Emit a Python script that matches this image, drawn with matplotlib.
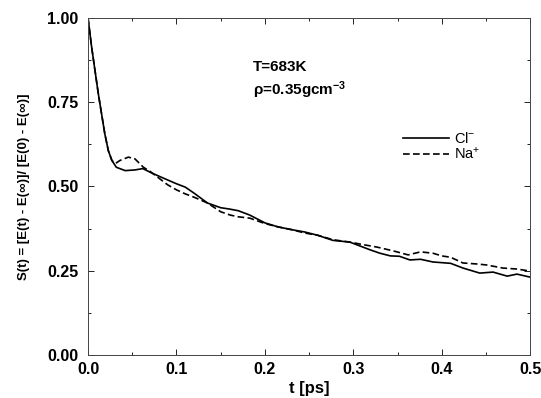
"""Solvation response S(t) for Cl- and Na+ at T=683K."""

import matplotlib

matplotlib.use("Agg")
import matplotlib.pyplot as plt
from matplotlib.ticker import FormatStrFormatter, MultipleLocator

plt.rcParams["font.family"] = ["Liberation Sans", "DejaVu Sans"]
plt.rcParams["mathtext.default"] = "regular"

# Cl- curve
t_cl = [0.0, 0.004, 0.0117, 0.019, 0.023, 0.027, 0.032, 0.042, 0.053, 0.062,
        0.072, 0.085, 0.1, 0.11, 0.12, 0.135, 0.15, 0.16, 0.17, 0.183,
        0.2, 0.215, 0.23, 0.245, 0.26, 0.277, 0.296, 0.308, 0.319, 0.33, 0.342,
        0.352, 0.364, 0.376, 0.39, 0.41, 0.424, 0.443, 0.458, 0.474, 0.485, 0.5]
s_cl = [1.0, 0.915, 0.774, 0.656, 0.606, 0.577, 0.557, 0.547, 0.549, 0.553,
        0.54, 0.525, 0.508, 0.498, 0.48, 0.451, 0.437, 0.433, 0.428, 0.415,
        0.392, 0.38, 0.372, 0.365, 0.355, 0.34, 0.335, 0.323, 0.312, 0.302, 0.294,
        0.293, 0.282, 0.284, 0.276, 0.272, 0.258, 0.243, 0.246, 0.234, 0.24, 0.231]

# Na+ curve
t_na = [0.0, 0.004, 0.0117, 0.019, 0.023, 0.027, 0.031, 0.036, 0.0456, 0.053,
        0.0626, 0.07, 0.08, 0.09, 0.1, 0.11, 0.12, 0.135, 0.15, 0.161, 0.17,
        0.183, 0.2, 0.215, 0.23, 0.245, 0.26, 0.277, 0.296, 0.31, 0.327, 0.345,
        0.362, 0.376, 0.39, 0.4, 0.41, 0.424, 0.44, 0.451, 0.469, 0.485, 0.5]
s_na = [1.0, 0.915, 0.774, 0.656, 0.606, 0.577, 0.568, 0.577, 0.587, 0.582,
        0.557, 0.545, 0.525, 0.505, 0.49, 0.478, 0.468, 0.451, 0.425, 0.415,
        0.41, 0.406, 0.39, 0.38, 0.372, 0.362, 0.355, 0.342, 0.335, 0.328, 0.32,
        0.309, 0.297, 0.306, 0.302, 0.294, 0.29, 0.273, 0.27, 0.267, 0.258, 0.255,
        0.249]

fig = plt.figure(figsize=(5.41, 3.98), dpi=100)
ax = fig.add_axes([0.1627, 0.108, 0.8173, 0.847])

ax.plot(t_cl, s_cl, color="black", lw=1.2, label="Cl$^{-}$")
ax.plot(t_na, s_na, color="black", lw=1.2, ls=(0, (4, 2)), label="Na$^{+}$")

ax.set_xlim(0.0, 0.5)
ax.set_ylim(0.0, 1.0)
ax.xaxis.set_major_locator(MultipleLocator(0.1))
ax.xaxis.set_minor_locator(MultipleLocator(0.05))
ax.yaxis.set_major_locator(MultipleLocator(0.25))
ax.yaxis.set_minor_locator(MultipleLocator(0.125))
ax.xaxis.set_major_formatter(FormatStrFormatter("%.1f"))
ax.yaxis.set_major_formatter(FormatStrFormatter("%.2f"))
ax.tick_params(which="both", direction="in", top=True, right=True, width=0.6)
ax.tick_params(which="major", length=4, labelsize=11.5)
ax.tick_params(axis="y", which="major", pad=7)
ax.tick_params(axis="x", which="major", pad=5)
ax.tick_params(which="minor", length=2)
for lab in ax.get_xticklabels() + ax.get_yticklabels():
    lab.set_fontweight("bold")
for sp in ax.spines.values():
    sp.set_linewidth(0.7)
    sp.set_color("#444444")

ax.set_xlabel("t [ps]", fontsize=12, fontweight="bold", labelpad=3)
ax.set_ylabel("S(t) = [E(t) - E(∞)]/ [E(0) - E(∞)]", fontsize=9.5,
              fontweight="bold", labelpad=12)

ax.text(0.1867, 0.855, "T=683K", fontsize=11, fontweight="bold", va="center")
ax.text(0.1867, 0.786, "ρ=0.35gcm$^{-3}$", fontsize=11, fontweight="bold",
        va="center")

ax.legend(loc="upper left", bbox_to_anchor=(0.685, 0.70), frameon=False,
          fontsize=10.5, handlelength=3.2, handletextpad=0.35, labelspacing=0.0,
          borderpad=0.3)

fig.savefig("out.png", dpi=100)
